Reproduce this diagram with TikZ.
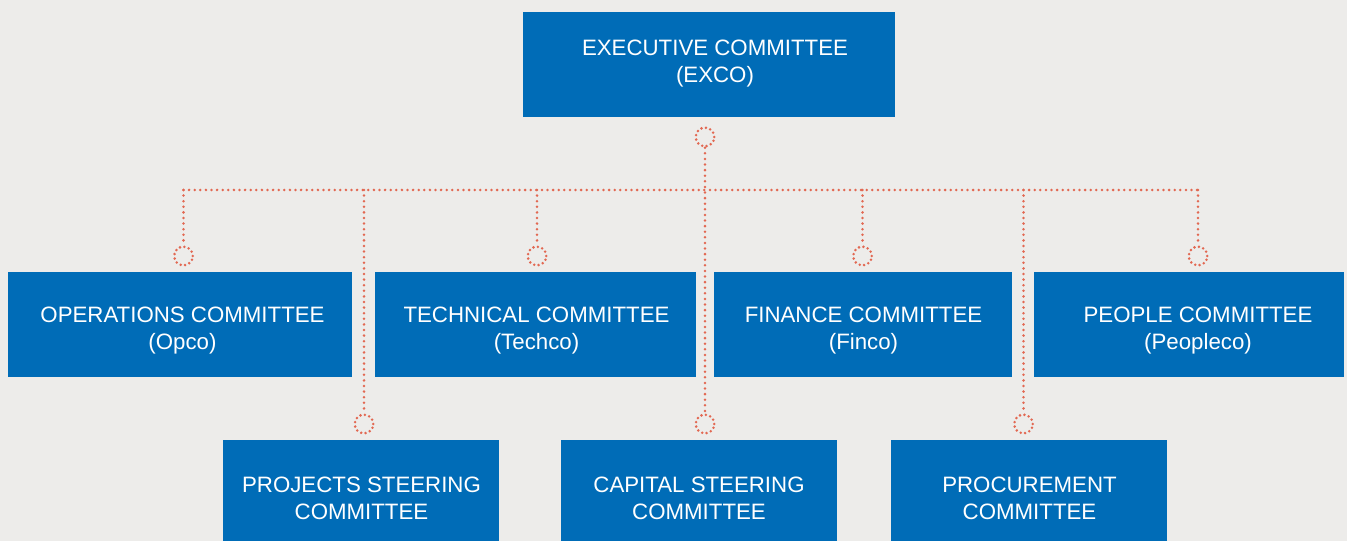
\documentclass[tikz,border=0pt]{standalone}
\usepackage{fontspec}
\setmainfont{Liberation Sans}
\definecolor{bg}{RGB}{237,236,234}
\definecolor{boxblue}{RGB}{0,108,183}
\definecolor{dotred}{RGB}{226,104,82}
\begin{document}
\begin{tikzpicture}[x=0.75pt,y=-0.75pt,
  box/.style={fill=boxblue,draw=none,anchor=north west,inner sep=0pt},
  lbl/.style={text=white,align=center,font=\fontsize{16.7}{20.6}\selectfont,inner sep=0pt},
  dotline/.style={draw=dotred,line width=2.1pt,line cap=round,dash pattern=on 0pt off 4.2pt},
  ring/.style={circle,draw=dotred,line width=2.1pt,line cap=round,dash pattern=on 0pt off 3.4pt,minimum size=14pt,inner sep=0pt}]
\fill[bg] (0,0) rectangle (1347,541);
\useasboundingbox (0,0) rectangle (1347,541);
% boxes
\node[box,minimum width=372*0.75pt,minimum height=105*0.75pt] (exbox) at (523,12) {};
\node[box,minimum width=344*0.75pt,minimum height=105*0.75pt] (opbox) at (8,272) {};
\node[box,minimum width=321*0.75pt,minimum height=105*0.75pt] (tebox) at (375,272) {};
\node[box,minimum width=298*0.75pt,minimum height=105*0.75pt] (fibox) at (714,272) {};
\node[box,minimum width=310*0.75pt,minimum height=105*0.75pt] (pebox) at (1034,272) {};
\node[box,minimum width=276*0.75pt,minimum height=101*0.75pt] (prbox) at (223,440) {};
\node[box,minimum width=276*0.75pt,minimum height=101*0.75pt] (cabox) at (561,440) {};
\node[box,minimum width=276*0.75pt,minimum height=101*0.75pt] (pcbox) at (891,440) {};
% labels
\node[lbl] (ex) at (715,63.5) {EXECUTIVE COMMITTEE\\(EXCO)};
\node[lbl] (op) at (182.5,330.5) {OPERATIONS COMMITTEE\\(Opco)};
\node[lbl] (te) at (536.5,330.5) {TECHNICAL COMMITTEE\\(Techco)};
\node[lbl] (fi) at (863.5,330.5) {FINANCE COMMITTEE\\(Finco)};
\node[lbl] (pe) at (1198,330.5) {PEOPLE COMMITTEE\\(Peopleco)};
\node[lbl] (pr) at (361.5,498.5) {PROJECTS STEERING\\COMMITTEE};
\node[lbl] (ca) at (699,498.5) {CAPITAL STEERING\\COMMITTEE};
\node[lbl] (pc) at (1029.5,498.5) {PROCUREMENT\\COMMITTEE};
% rings
\node[ring] (rex) at (705,137) {};
\node[ring] (rop) at (183.5,256) {};
\node[ring] (rte) at (537,256) {};
\node[ring] (rfi) at (862.5,256) {};
\node[ring] (rpe) at (1198,256) {};
\node[ring] (rpr) at (364,424) {};
\node[ring] (rca) at (705,424) {};
\node[ring] (rpc) at (1023.5,424) {};
% junctions
\coordinate (jop) at (183.5,190);
\coordinate (jpr) at (364,190);
\coordinate (jte) at (537,190);
\coordinate (jca) at (705,190);
\coordinate (jfi) at (862.5,190);
\coordinate (jpc) at (1023.5,190);
\coordinate (jpe) at (1198,190);
% connectors
\draw[dotline] (jop) -- (jpe);
\draw[dotline] (rex.south) -- (rca.north);
\draw[dotline] (jop) -- (rop.north);
\draw[dotline] (jpr) -- (rpr.north);
\draw[dotline] (jte) -- (rte.north);
\draw[dotline] (jfi) -- (rfi.north);
\draw[dotline] (jpc) -- (rpc.north);
\draw[dotline] (jpe) -- (rpe.north);
\end{tikzpicture}
\end{document}
